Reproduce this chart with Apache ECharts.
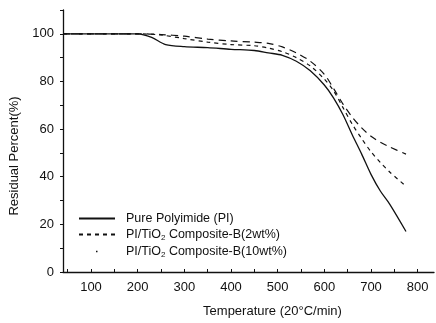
<!DOCTYPE html>
<html>
<head>
<meta charset="utf-8">
<script src="https://cdn.jsdelivr.net/npm/echarts@6/dist/echarts.min.js"></script>
<style>
    html, body { margin: 0; padding: 0; background: #fff; }
    #chart { width: 436px; height: 323px; }
</style>
</head>
<body>
<div id="chart"></div>
<script>
// 数据
let seriesNames = ["Pure Polyimide (PI)", "PI/TiO2 Composite-B(2wt%)", "PI/TiO2 Composite-B(10wt%)"];
let piTemp = [40, 100, 200, 230, 260, 300, 350, 400, 450, 480, 510, 540, 570, 600, 620, 640, 660, 680, 700, 720, 740, 775];
let piValue = [100, 100, 100, 98.5, 95.5, 94.6, 94.2, 93.5, 93, 92, 91, 88.5, 84.5, 78.5, 73, 66, 57.5, 49.5, 41, 34, 28.5, 17];
let b2Temp = [40, 100, 200, 250, 300, 350, 400, 450, 480, 510, 540, 570, 600, 620, 640, 660, 680, 700, 720, 740, 775];
let b2Value = [100, 100, 100, 99.5, 98, 96.5, 95.5, 95, 94, 92.5, 90, 86.5, 81, 76, 69, 62, 56, 50.5, 46, 42, 36];
let b10Temp = [40, 100, 200, 250, 300, 350, 400, 450, 480, 510, 540, 570, 600, 620, 640, 660, 680, 700, 720, 740, 775];
let b10Value = [100, 100, 100, 99.7, 99, 97.8, 97, 96.5, 96, 94.5, 92, 88.5, 83, 77, 70.5, 65, 60.5, 57, 54.5, 52.5, 49.5];
let xLabels = [100, 200, 300, 400, 500, 600, 700, 800];
let xTicks = [50, 100, 150, 200, 250, 300, 350, 400, 450, 500, 550, 600, 650, 700, 750, 800];
let yLabels = [0, 20, 40, 60, 80, 100];
let yTicks = [0, 10, 20, 30, 40, 50, 60, 70, 80, 90, 100, 110];

let pairs = (xs, ys) => xs.map((x, i) => [x, ys[i]]);

let ink = "#111";
let font = "Liberation Sans";

let myChart = echarts.init(document.getElementById("chart"));
let option = {
    animation: false,
    grid: { left: 63, right: 2, top: 10, bottom: 47, containLabel: false },
    xAxis: {
        type: "value",
        min: 40,
        max: 835,
        name: "Temperature (20°C/min)",
        nameLocation: "middle",
        nameGap: 33,
        nameTextStyle: { color: ink, fontFamily: font, fontSize: 13, padding: [0, 0, 0, 48] },
        axisLine: { show: true, lineStyle: { color: ink, width: 1.3 } },
        axisTick: { show: true, inside: true, length: 3, customValues: xTicks, lineStyle: { color: ink } },
        axisLabel: { customValues: xLabels, color: ink, fontFamily: font, fontSize: 13, margin: 9 },
        splitLine: { show: false }
    },
    yAxis: {
        type: "value",
        min: 0,
        max: 110,
        name: "Residual Percent(%)",
        nameLocation: "middle",
        nameGap: 42,
        nameRotate: 90,
        nameTextStyle: { color: ink, fontFamily: font, fontSize: 13, padding: [0, 30, 0, 0] },
        axisLine: { show: true, lineStyle: { color: ink, width: 1.3 } },
        axisTick: { show: true, length: 3, customValues: yTicks, lineStyle: { color: ink } },
        axisLabel: { customValues: yLabels, color: ink, fontFamily: font, fontSize: 13, margin: 9 },
        splitLine: { show: false }
    },
    legend: {
        orient: "vertical",
        left: 73,
        top: 207,
        itemWidth: 36,
        itemHeight: 11,
        itemGap: 3,
        itemStyle: { opacity: 0 },
        data: [
            { name: seriesNames[0] },
            { name: seriesNames[1] },
            { name: seriesNames[2], lineStyle: { type: [1.5, 40], dashOffset: -17, width: 1.5 } }
        ],
        formatter: name => name.replace("TiO2", "TiO{sub|2}"),
        textStyle: {
            color: ink, fontFamily: font, fontSize: 12.5, padding: [0, 0, 0, 6],
            rich: { sub: { fontSize: 8, padding: [7, 0, 0, 0], color: ink, fontFamily: font } }
        }
    },
    series: [
        {
            name: seriesNames[0], type: "line", data: pairs(piTemp, piValue),
            showSymbol: false, symbol: "none", smooth: 0.3,
            lineStyle: { color: ink, width: 1.3, type: "solid" },
            itemStyle: { color: ink }
        },
        {
            name: seriesNames[1], type: "line", data: pairs(b2Temp, b2Value),
            showSymbol: false, symbol: "none", smooth: 0.3,
            lineStyle: { color: ink, width: 1.2, type: [4, 4] },
            itemStyle: { color: ink }
        },
        {
            name: seriesNames[2], type: "line", data: pairs(b10Temp, b10Value),
            showSymbol: false, symbol: "none", smooth: 0.3,
            lineStyle: { color: ink, width: 1.2, type: [7, 5] },
            itemStyle: { color: ink }
        }
    ]
};
myChart.setOption(option);
</script>
</body>
</html>
